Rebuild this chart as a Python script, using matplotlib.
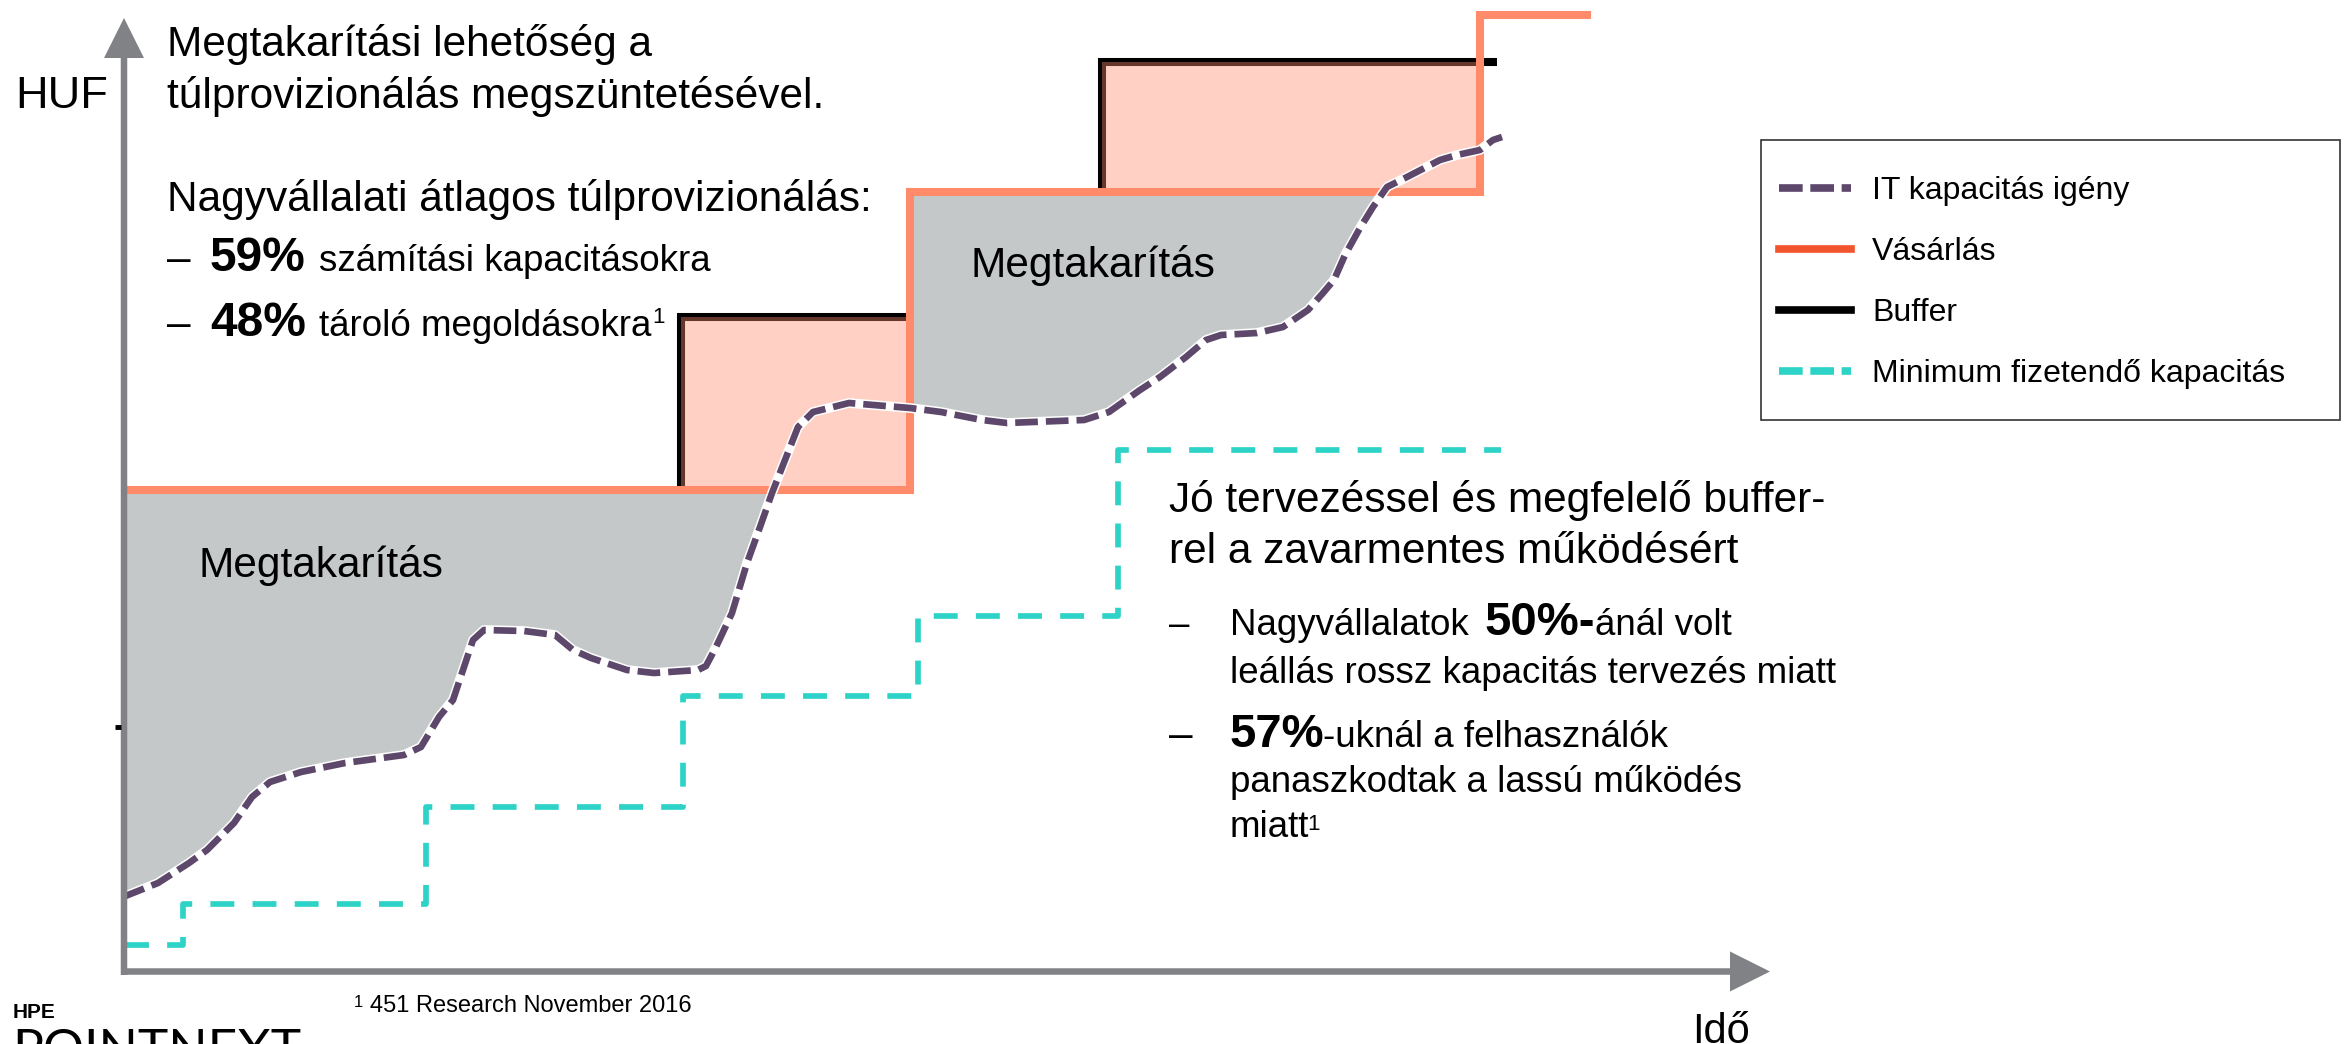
import numpy as np
import matplotlib
matplotlib.use('Agg')
import matplotlib.pyplot as plt
from matplotlib.lines import Line2D
from matplotlib.patches import FancyArrow, Rectangle

plt.rcParams['font.family'] = ['Liberation Sans', 'DejaVu Sans']

AXIS_GRAY = '#818285'
DEMAND = '#5D476B'
PURCHASE = '#FF8B6A'
PURCHASE_LEG = '#F2542D'
MIN_CYAN = '#2ED3C7'
SAVING_GRAY = '#C4C8C9'

# IT capacity demand over time (time units, HUF units)
demand_t = [0.0, 3.5, 6.6, 8.4, 11.1, 12.9, 14.7, 17.8, 22.2, 28.1,
            29.8, 31.6, 33.0, 33.9, 35.0, 36.1, 40.1, 43.2, 45.0, 46.8,
            50.4, 53.1, 57.5, 58.3, 59.3, 60.9, 62.4, 63.7, 64.9, 66.2,
            67.5, 69.0, 72.6, 78.7, 81.8, 85.9, 88.4, 96.1, 98.6, 101.7,
            103.7, 106.3, 108.3, 109.8, 113.4, 116.0, 118.5, 120.0, 121.1, 122.2,
            123.7, 125.0, 126.4, 128.4, 131.7, 133.4, 135.7, 137.0, 137.9]
demand_v = [7.4, 8.8, 10.8, 12.1, 14.8, 17.4, 18.9, 19.9, 20.8, 21.6,
            22.4, 25.4, 27.1, 29.8, 33.1, 34.1, 34.0, 33.6, 32.1, 31.3,
            30.1, 29.8, 30.1, 30.5, 32.4, 35.8, 40.8, 44.4, 47.8, 51.1,
            54.4, 55.9, 56.8, 56.3, 55.9, 55.1, 54.8, 55.1, 55.9, 58.1,
            59.4, 61.4, 63.1, 63.6, 63.8, 64.4, 66.1, 67.8, 69.1, 71.6,
            74.3, 76.4, 78.4, 79.4, 81.1, 81.6, 82.1, 83.1, 83.4]

# purchased capacity (steps)
purchase_t = [0.4, 78.7, 135.7, 146.4]
purchase_v = [48.1, 77.9, 95.6, 95.6]

# buffers above the purchase steps
buffer_start = [55.8, 97.9]
buffer_end = [78.7, 137.4]
buffer_base = [48.1, 77.9]
buffer_top = [65.4, 90.9]

# minimum payable capacity (steps)
minpay_t = [0.2, 6.0, 30.3, 56.0, 79.5, 99.5, 137.8]
minpay_v = [2.6, 6.7, 16.4, 27.5, 35.5, 52.1, 52.1]

legend_labels = ['IT kapacitás igény', 'Vásárlás', 'Buffer', 'Minimum fizetendő kapacitás']

MAIN = 30.5
SUB = 26.5
BIG = 34

fig = plt.figure(figsize=(23.46, 10.44), dpi=100)
ax = fig.add_axes([0, 0, 1, 1])
ax.set_xlim(-12.3, 222.3)
ax.set_ylim(-7.3, 97.1)
ax.axis('off')

t = np.array(demand_t)
v = np.array(demand_v)

# grey savings areas under the first two purchase steps
for i in range(2):
    m = (t <= purchase_t[i + 1]) & (t >= (purchase_t[i] if i else -1))
    ax.fill_between(t[m], v[m], purchase_v[i], where=v[m] < purchase_v[i],
                    interpolate=True, color=SAVING_GRAY, lw=0, zorder=1)

# buffer lines + pink buffer areas
for s, e, b, top, pe in zip(buffer_start, buffer_end, buffer_base, buffer_top, purchase_t[1:]):
    ax.plot([s, s, e], [b, top, top], color='black', lw=5.8,
            solid_joinstyle='miter', solid_capstyle='butt', zorder=2)
    ax.fill_between([s, pe], b, top, color=PURCHASE, alpha=0.4, lw=0, zorder=3)

ax.step(purchase_t, purchase_v, where='post', color=PURCHASE, lw=5.8,
        solid_joinstyle='miter', zorder=4)

ax.step(minpay_t, minpay_v, where='post', color=MIN_CYAN, lw=4.1,
        linestyle=(0, (4.2, 3.2)), zorder=4)

ax.plot(t, v, color='white', lw=7.0, solid_capstyle='butt', zorder=5)
ax.plot(t, v, color=DEMAND, lw=4.8, linestyle=(0, (3.4, 1.2)), zorder=6)

# axes arrows
ax.add_patch(FancyArrow(0.1, -0.4, 0, 95.7, width=0.65, head_width=4.0, head_length=4.0,
                        length_includes_head=True, color=AXIS_GRAY, lw=0, zorder=7))
ax.add_patch(FancyArrow(-0.2, -0.05, 164.9, 0, width=0.65, head_width=4.0, head_length=4.0,
                        length_includes_head=True, color=AXIS_GRAY, lw=0, zorder=7))
ax.plot([-0.75, -0.2], [24.4, 24.4], color='black', lw=3.5, solid_capstyle='butt', zorder=7)


def put(x, y, s, size, weight='normal', **kw):
    ax.text(x, y, s, fontsize=size, fontweight=weight, ha='left', va='baseline',
            color='black', zorder=8, **kw)


put(-10.8, 86.3, 'HUF', 32.5)
put(4.4, 91.5, 'Megtakarítási lehetőség a', MAIN)
put(4.4, 86.3, 'túlprovizionálás megszüntetésével.', MAIN)
put(4.4, 76.0, 'Nagyvállalati átlagos túlprovizionálás:', MAIN)
put(4.4, 70.0, '–', MAIN)
put(8.7, 70.0, '59%', 34.5, 'bold')
put(19.6, 70.0, 'számítási kapacitásokra', SUB)
put(4.4, 63.5, '–', MAIN)
put(8.7, 63.5, '48%', 34.5, 'bold')
put(19.6, 63.5, 'tároló megoldásokra', SUB)
put(52.9, 64.8, '1', 16)

put(7.6, 39.4, 'Megtakarítás', MAIN)
put(84.8, 69.4, 'Megtakarítás', MAIN)

put(104.6, 45.9, 'Jó tervezéssel és megfelelő buffer-', MAIN)
put(104.6, 40.8, 'rel a zavarmentes működésért', MAIN)
put(104.6, 33.6, '–', SUB)
put(110.7, 33.6, 'Nagyvállalatok', SUB)
put(136.2, 33.6, '50%-', BIG, 'bold')
put(147.2, 33.6, 'ánál volt', SUB)
put(110.7, 28.8, 'leállás rossz kapacitás tervezés miatt', SUB)
put(104.6, 22.4, '–', MAIN)
put(110.7, 22.4, '57%', BIG, 'bold')
put(120.0, 22.4, '-uknál a felhasználók', SUB)
put(110.7, 17.9, 'panaszkodtak a lassú működés', SUB)
put(110.7, 13.4, 'miatt', SUB)
put(118.4, 14.1, '1', 16)

put(23.1, -3.6, '1', 12)
put(24.7, -4.07, '451 Research November 2016', 17)
put(156.9, -7.2, 'Idő', 30)
put(-11.0, -4.7, 'HPE', 15, 'bold')
ax.text(-11.1, -9.4, 'POINTNEXT', fontsize=37, family=['Lato', 'DejaVu Sans'],
        ha='left', va='baseline', color='black', zorder=8)

# legend
handles = [
    Line2D([], [], color=DEMAND, lw=5.5, linestyle=(0, (3.1, 1.0))),
    Line2D([], [], color=PURCHASE_LEG, lw=5.5),
    Line2D([], [], color='black', lw=5.5),
    Line2D([], [], color=MIN_CYAN, lw=5.5, linestyle=(0, (3.1, 1.0))),
]
fig.patches.append(Rectangle((1761 / 2346, 1 - 420 / 1044), (2340 - 1761) / 2346, 280 / 1044,
                             transform=fig.transFigure, fill=False, edgecolor='#333333', lw=1.2))
ax.legend(handles, legend_labels, loc='upper left', bbox_to_anchor=(1779 / 2346, 1 - 176 / 1044),
          bbox_transform=fig.transFigure, frameon=False, fontsize=23, handlelength=2.25,
          handletextpad=0.66, labelspacing=0.97, borderpad=0, borderaxespad=0)

fig.savefig('out.png', dpi=100, facecolor='white')
